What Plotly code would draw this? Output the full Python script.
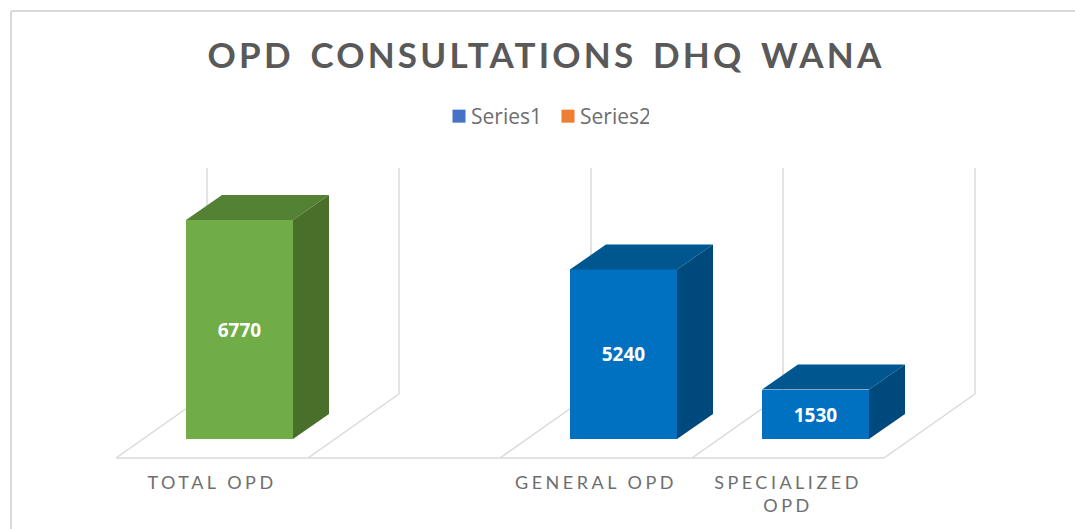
import plotly.graph_objects as go

# ---- data ----
categories = ["TOTAL OPD", "", "GENERAL OPD", "SPECIALIZED<br>OPD"]
slots = [0.5, 1.5, 2.5, 3.5]
bar_labels = ["TOTAL OPD", "GENERAL OPD", "SPECIALIZED OPD"]
bar_slots = [0.5, 2.5, 3.5]
values = [6770, 5240, 1530]
front_colors = ["#70AD47", "#0070C0", "#0070C0"]
top_colors = ["#548235", "#00568F", "#00568F"]
side_colors = ["#4A6F2B", "#00497D", "#00497D"]
legend_names = ["Series1", "Series2"]
legend_colors = ["#4472C4", "#ED7D31"]

# ---- scales ----
W, H = 1075, 529
PLOT_BOTTOM = 463
SLOT_PX = 192.0
X0_PX = 116.0
Y0_PX = 439.0
PX_PER_UNIT = 219.0 / 6770

def xu(px):
    return (px - X0_PX) / SLOT_PX

def yu(px):
    return (Y0_PX - px) / PX_PER_UNIT

DX = 36 / SLOT_PX
DY = 25 / PX_PER_UNIT
BAR_W = 107 / SLOT_PX
BAR_SHIFT = 27.5 / SLOT_PX
GRID = "#D9D9D9"

fig = go.Figure()

# front faces
fig.add_trace(go.Bar(
    x=[s + BAR_SHIFT for s in bar_slots], y=values, width=BAR_W,
    marker=dict(color=front_colors, line_width=0),
    text=[str(v) for v in values], textposition="inside", insidetextanchor="middle",
    textangle=0, constraintext="none",
    textfont=dict(family="Open Sans", size=19, color="white", weight="bold"),
    customdata=bar_labels, showlegend=False, hoverinfo="skip"))

# top and side faces
for s, v, tc, sc in zip(bar_slots, values, top_colors, side_colors):
    l = s + BAR_SHIFT - BAR_W / 2
    r = s + BAR_SHIFT + BAR_W / 2
    fig.add_trace(go.Scatter(
        x=[l, r, r + DX, l + DX, l], y=[v, v, v + DY, v + DY, v],
        mode="lines", fill="toself", fillcolor=tc, line=dict(width=0),
        showlegend=False, hoverinfo="skip"))
    fig.add_trace(go.Scatter(
        x=[r, r + DX, r + DX, r, r], y=[0, DY, v + DY, v, 0],
        mode="lines", fill="toself", fillcolor=sc, line=dict(width=0),
        showlegend=False, hoverinfo="skip"))

# legend entries
for n, c in zip(legend_names, legend_colors):
    fig.add_trace(go.Scatter(
        x=[None], y=[None], mode="markers", name=n,
        marker=dict(symbol="square", size=13, color=c), hoverinfo="skip"))

# 3D wall / floor lines
shapes = []
line = dict(color=GRID, width=1.5)
FY, BY, TOP = yu(458), yu(394), yu(168)
for i in range(5):
    f = float(i)
    b = f + 91 / SLOT_PX
    shapes.append(dict(type="line", x0=f, x1=b, y0=FY, y1=BY, line=line, layer="below"))
    shapes.append(dict(type="line", x0=b, x1=b, y0=BY, y1=TOP, line=line, layer="below"))
shapes.append(dict(type="line", x0=0, x1=4, y0=FY, y1=FY, line=line, layer="below"))
# outer border of the chart area
pb = dict(color="#D9D9D9", width=2)
shapes.append(dict(type="line", xref="paper", yref="paper", x0=11 / W, x1=1,
                   y0=1 - 11 / PLOT_BOTTOM, y1=1 - 11 / PLOT_BOTTOM, line=pb))
shapes.append(dict(type="line", xref="paper", yref="paper", x0=11 / W, x1=11 / W,
                   y0=1 - 11 / PLOT_BOTTOM, y1=1 - H / PLOT_BOTTOM, line=pb))

fig.update_layout(
    width=W, height=H, autosize=False,
    margin=dict(l=0, r=0, t=0, b=H - PLOT_BOTTOM, autoexpand=False),
    paper_bgcolor="white", plot_bgcolor="white",
    shapes=shapes,
    title=dict(text="<b>OPD CONSULTATIONS DHQ WANA</b>", x=546 / W, xanchor="center",
               y=1 - 56 / H, yanchor="middle",
               font=dict(family="Lato", size=35, color="#595959")),
    legend=dict(orientation="h", x=540 / W, xanchor="center", y=1 - 96 / PLOT_BOTTOM, yanchor="top",
                font=dict(family="Open Sans", size=21, color="#6E6E6E"),
                entrywidth=64, entrywidthmode="pixels",
                bgcolor="rgba(0,0,0,0)"),
    xaxis=dict(range=[xu(0), xu(W)], tickmode="array", tickvals=slots, ticktext=categories,
               showgrid=False, zeroline=False, showline=False, ticks="",
               ticklabelstandoff=7,
               tickfont=dict(family="Lato", size=18, color="#6E6E6E")),
    yaxis=dict(range=[yu(PLOT_BOTTOM), yu(0)], visible=False, showgrid=False, zeroline=False),
    bargap=0,
)

post = """
document.body.style.margin='0';
var g=document.querySelector('.gtitle'); if(g){g.style.letterSpacing='3.2px';g.style.wordSpacing='5px';}
document.querySelectorAll('.xtick text').forEach(function(t){t.style.letterSpacing='3.5px';});
document.querySelectorAll('.legendsymbols').forEach(function(t){t.setAttribute('transform','translate(8,0)');});
"""
fig.write_html("out.html", post_script=post, config={"displayModeBar": False})
